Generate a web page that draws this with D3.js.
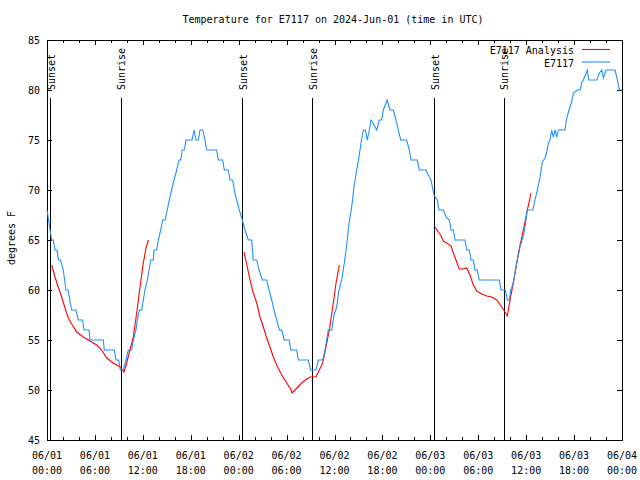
<!DOCTYPE html>
<html><head><meta charset="utf-8">
<script src="https://cdn.jsdelivr.net/npm/d3@7"></script>
<style>
body{margin:0;background:#fff;}
text{font-family:"DejaVu Sans Mono","Liberation Mono",monospace;font-size:10px;fill:#000;}
</style></head>
<body><svg id="chart" width="640" height="480"></svg>
<script>
const titleText = "Temperature for E7117 on 2024-Jun-01 (time in UTC)";
const yLabelText = "degrees F";
const seriesNames = ["E7117 Analysis", "E7117"];
const seriesColors = ["#ff0000", "#1e90ff"];
const yTicks = [45, 50, 55, 60, 65, 70, 75, 80, 85];
const xTickHours = [0, 6, 12, 18, 24, 30, 36, 42, 48, 54, 60, 66, 72];
const xTickDates = ["06/01","06/01","06/01","06/01","06/02","06/02","06/02","06/02","06/03","06/03","06/03","06/03","06/04"];
const xTickTimes = ["00:00","06:00","12:00","18:00","00:00","06:00","12:00","18:00","00:00","06:00","12:00","18:00","00:00"];
// sun events, hours since 2024-06-01 00:00 UTC
const sunEventHours = [0.50, 9.28, 24.52, 33.27, 48.53, 57.27];
const sunEventNames = ["Sunset","Sunrise","Sunset","Sunrise","Sunset","Sunrise"];

// observed E7117 temperature [hour, degF]
const e7117Obs = [[0,68],[0.38,66],[0.59,65],[0.79,65],[1.00,64],[1.25,64],[1.44,63],[1.69,63],[2.04,62],[2.38,60],[2.63,60],[3.09,58],[3.63,58],[3.92,57],[4.47,57],[4.63,56],[5.26,56],[5.38,55],[7.05,55],[7.18,54],[8.43,54],[8.64,53],[8.98,53],[9.18,52],[9.55,52],[9.89,53],[10.18,54],[10.61,54],[10.81,55],[11.14,56],[11.31,57],[11.56,58],[11.86,58],[12.27,60],[12.56,61],[12.99,63],[13.31,63],[13.40,64],[13.74,64],[13.94,65],[14.24,66],[14.49,67],[14.78,67],[15.06,68],[15.31,69],[15.61,70],[15.90,71],[16.24,72],[16.53,73],[16.74,73],[16.94,74],[17.19,74],[17.41,75],[18.16,75],[18.41,76],[18.66,75],[18.95,75],[19.16,76],[19.50,76],[19.78,75],[20.00,74],[21.25,74],[21.45,73],[22.00,73],[22.20,72],[22.70,72],[22.92,71],[23.25,71],[23.45,70],[23.75,69],[24.08,68],[24.46,67],[24.79,66],[25.21,65],[25.63,65],[25.83,63],[26.26,63],[26.55,62],[26.96,61],[27.51,61],[27.80,60],[28.14,59],[28.42,58],[28.76,57],[29.09,56],[29.39,56],[29.71,55],[30.34,55],[30.52,54],[31.27,54],[31.47,53],[32.72,53],[33.02,52],[33.68,52],[33.97,53],[34.52,53],[34.81,54],[35.02,55],[35.22,56],[35.65,56],[35.94,57.5],[36.28,58.3],[36.56,60],[36.90,61],[37.23,62.7],[37.53,64.5],[37.82,66.7],[38.15,68.3],[38.44,70.3],[38.78,72],[39.07,73.3],[39.32,74.7],[39.61,76],[39.86,76],[40.11,75],[40.36,76],[40.57,77],[40.95,76.5],[41.29,76],[41.61,77],[41.91,77],[42.11,78],[42.61,79],[42.95,78],[43.36,78],[43.70,77],[43.99,76],[44.29,75],[45.04,75],[45.37,74],[45.58,73],[46.37,73],[46.62,72],[47.46,72],[47.74,71.5],[48.08,71],[48.46,69.5],[48.87,69],[49.09,68],[49.63,68],[49.96,67.3],[50.38,67],[50.59,66],[50.88,66],[51.09,65],[52.34,65],[52.56,64],[52.88,64],[53.09,63],[53.38,63],[53.60,62],[53.88,62],[54.13,61],[56.64,61],[56.85,60],[57.39,60],[57.64,59],[57.89,59],[58.07,60],[58.32,60.5],[58.60,61.7],[58.89,63],[59.23,64.3],[59.57,65.2],[59.86,66.3],[60.14,68],[60.82,68],[61.11,69],[61.40,70],[61.74,71.3],[62.03,72.8],[62.36,73.2],[62.58,73.8],[62.78,74.7],[62.99,75],[63.20,76],[63.40,75.3],[63.61,76],[63.83,75.3],[64.03,76],[64.86,76],[65.08,77.2],[65.37,78],[65.70,78.8],[65.91,79.7],[66.41,80],[66.75,80],[66.96,80.7],[67.16,81],[67.66,82],[67.84,81],[68.84,81],[69.17,81.7],[69.47,82],[69.67,81.2],[70.00,82],[71.13,82],[71.34,81.3],[71.67,80],[72.00,80]];

// analysis, one segment per night [hour, degF]
const analysisNight1 = [[0.59,62.5],[1.00,61.3],[1.41,60.3],[1.84,59.3],[2.25,58.2],[2.67,57.2],[3.09,56.6],[3.72,55.8],[4.55,55.3],[5.38,54.9],[6.22,54.5],[6.85,54.0],[7.48,53.2],[8.30,52.7],[9.14,52.3],[9.64,51.8],[9.98,52.7],[10.39,54.0],[10.81,55.3],[11.23,57.7],[11.65,60.3],[12.06,62.7],[12.40,64.2],[12.69,65.0]];
const analysisNight2 = [[24.67,63.8],[25.08,62.3],[25.42,61.0],[25.83,59.7],[26.26,58.7],[26.67,57.3],[27.09,56.3],[27.51,55.2],[27.92,54.3],[28.34,53.3],[28.76,52.5],[29.39,51.5],[30.02,50.7],[30.52,50.1],[30.68,49.7],[31.18,50.1],[31.89,50.7],[32.52,51.1],[32.93,51.3],[33.68,51.3],[34.10,52.0],[34.52,52.7],[34.94,54.3],[35.35,56.0],[35.78,58.3],[36.19,60.7],[36.60,62.5]];
const analysisNight3 = [[48.59,66.3],[49.00,65.8],[49.30,65.5],[49.63,64.9],[50.05,64.7],[50.59,64.4],[50.88,63.7],[51.30,62.8],[51.63,62.1],[52.05,62.1],[52.56,62.2],[52.97,61.5],[53.38,60.5],[53.81,59.9],[54.43,59.6],[55.06,59.4],[55.69,59.3],[56.31,59.0],[56.94,58.3],[57.35,57.8],[57.64,57.4],[57.98,59.0],[58.39,60.7],[58.82,62.7],[59.23,64.5],[59.65,66.0],[60.07,67.7],[60.61,69.7]];

const svg = d3.select("#chart");
const L = 47, R = 622, T = 40, B = 440;
const x = d3.scaleLinear().domain([0, 72]).range([L, R]);
const y = d3.scaleLinear().domain([45, 85]).range([B, T]);

// title
svg.append("text").attr("x", 333).attr("y", 23).attr("text-anchor", "middle").text(titleText);
// y label
svg.append("text").attr("transform", "translate(15,238) rotate(-90)").attr("text-anchor", "middle").text(yLabelText);

const minorHours = d3.range(0, 73, 2);
function axisG(axis) {
  const g = svg.append("g").attr("shape-rendering", "crispEdges");
  g.call(axis);
  g.select(".domain").remove();
  g.selectAll("line").attr("stroke", "#000");
  g.selectAll("text").remove();
  return g;
}
axisG(d3.axisBottom(x).tickValues(minorHours).tickSize(-3).tickFormat("")).attr("transform", `translate(0,${B})`);
axisG(d3.axisBottom(x).tickValues(xTickHours).tickSize(-5).tickFormat("")).attr("transform", `translate(0,${B})`);
axisG(d3.axisTop(x).tickValues(minorHours).tickSize(-3).tickFormat("")).attr("transform", `translate(0,${T})`);
axisG(d3.axisTop(x).tickValues(xTickHours).tickSize(-5).tickFormat("")).attr("transform", `translate(0,${T})`);
axisG(d3.axisLeft(y).tickValues(yTicks).tickSize(-5).tickFormat("")).attr("transform", `translate(${L},0)`);
axisG(d3.axisRight(y).tickValues(yTicks).tickSize(-5).tickFormat("")).attr("transform", `translate(${R},0)`);

// y tick labels
svg.append("g").selectAll("text").data(yTicks).join("text")
  .attr("x", L - 7).attr("y", d => y(d) + 4).attr("text-anchor", "end").text(d => d);
// x tick labels
const xl = svg.append("g").selectAll("g").data(xTickHours).join("g")
  .attr("transform", d => `translate(${x(d)},0)`);
xl.append("text").attr("y", 459).attr("text-anchor", "middle").text((d, i) => xTickDates[i]);
xl.append("text").attr("y", 474).attr("text-anchor", "middle").text((d, i) => xTickTimes[i]);

// frame
svg.append("rect").attr("x", L).attr("y", T).attr("width", R - L).attr("height", B - T)
  .attr("fill", "none").attr("stroke", "#000").attr("shape-rendering", "crispEdges");

// sun event lines
const sun = svg.append("g").selectAll("g").data(sunEventHours).join("g");
sun.append("line").attr("x1", d => x(d)).attr("x2", d => x(d)).attr("y1", 98).attr("y2", B)
  .attr("stroke", "#000").attr("shape-rendering", "crispEdges");
sun.append("text").attr("transform", d => `translate(${Math.round(x(d)) + 4},90) rotate(-90)`)
  .attr("text-anchor", "start").text((d, i) => sunEventNames[i]);

// lines
const line = d3.line().x(d => x(d[0])).y(d => y(d[1]));
[analysisNight1, analysisNight2, analysisNight3].forEach(seg => {
  svg.append("path").datum(seg).attr("d", line).attr("fill", "none")
    .attr("stroke", seriesColors[0]).attr("stroke-width", 1.1);
});
svg.append("path").datum(e7117Obs).attr("d", line).attr("fill", "none")
  .attr("stroke", seriesColors[1]).attr("stroke-width", 1.1);

// legend
const leg = svg.append("g").selectAll("g").data(seriesNames).join("g")
  .attr("transform", (d, i) => `translate(0,${50 + i * 12.5})`);
leg.append("text").attr("x", 574).attr("y", 4).attr("text-anchor", "end").text(d => d);
leg.append("line").attr("x1", 582).attr("x2", 610).attr("y1", -0.5).attr("y2", -0.5)
  .attr("stroke", (d, i) => seriesColors[i]).attr("stroke-width", 1.1);
</script></body></html>
